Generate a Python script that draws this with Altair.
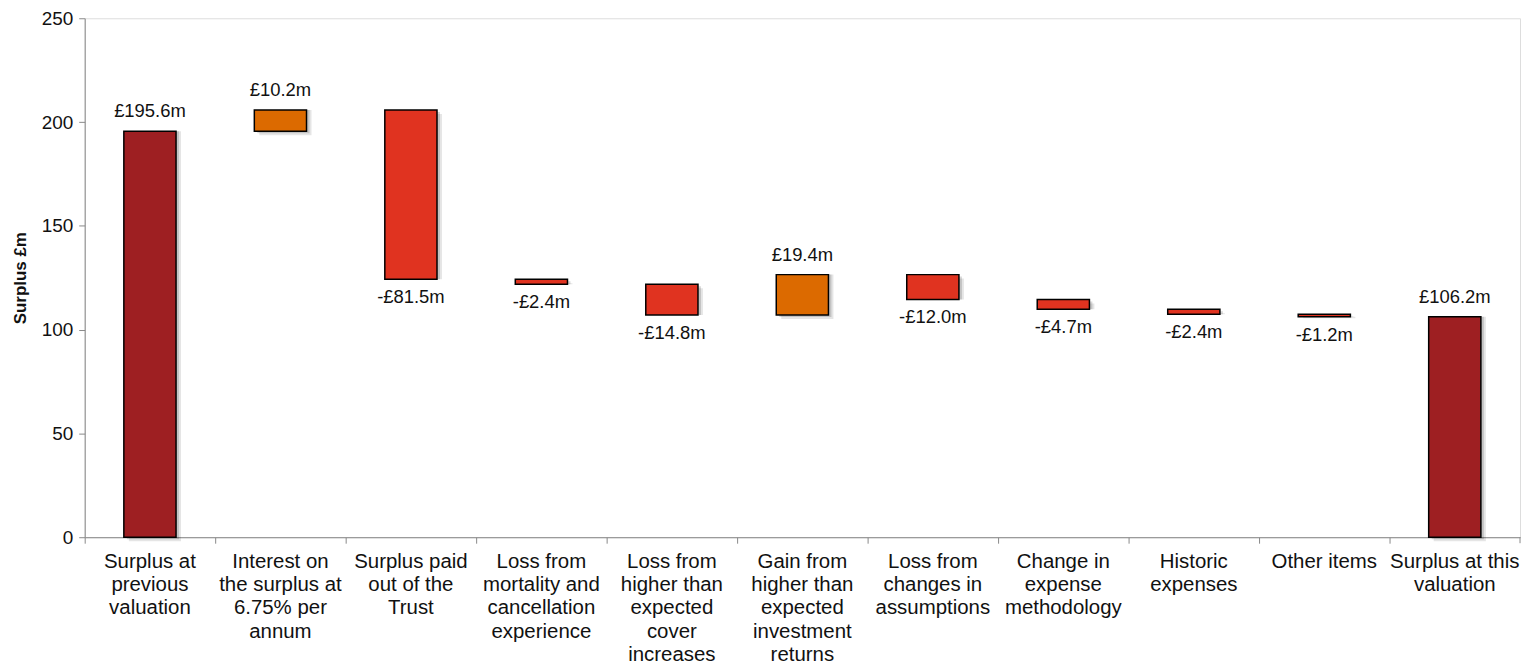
import altair as alt
import pandas as pd

categories = [
    "Surplus at|previous|valuation",
    "Interest on|the surplus at|6.75% per|annum",
    "Surplus paid|out of the|Trust",
    "Loss from|mortality and|cancellation|experience",
    "Loss from|higher than|expected|cover|increases",
    "Gain from|higher than|expected|investment|returns",
    "Loss from|changes in|assumptions",
    "Change in|expense|methodology",
    "Historic|expenses",
    "Other items",
    "Surplus at this|valuation",
]
changes = [195.6, 10.2, -81.5, -2.4, -14.8, 19.4, -12.0, -4.7, -2.4, -1.2, 106.2]
kinds = ["total", "gain", "loss", "loss", "loss", "gain", "loss", "loss", "loss", "loss", "total"]

rows = []
running = 0.0
for i, (c, v, k) in enumerate(zip(categories, changes, kinds)):
    if k == "total":
        start, end = 0.0, v
        running = v
        label = f"£{v:.1f}m"
    else:
        start, end = running, running + v
        running = end
        label = f"£{v:.1f}m" if v >= 0 else f"-£{abs(v):.1f}m"
    rows.append(dict(cat=c, order=i, start=start, end=end, kind=k, label=label,
                     top=max(start, end), bottom=min(start, end)))
df = pd.DataFrame(rows)

W, H = 1441, 521
x = alt.X("cat:N", sort=categories, title=None,
          scale=alt.Scale(paddingInner=0, paddingOuter=0),
          axis=alt.Axis(labelExpr="split(datum.label, '|')", labelAngle=0,
                        labelFontSize=20.5, labelLineHeight=23.5, labelColor="#111",
                        labelFont="Liberation Sans", labelPadding=8,
                        tickSize=6, tickColor="#888", domainColor="#888",
                        bandPosition=0, labelBaseline="top"))
y = alt.Y("start:Q", title="Surplus £m",
          scale=alt.Scale(domain=[0, 250], nice=False),
          axis=alt.Axis(values=[0, 50, 100, 150, 200, 250], grid=False,
                        labelFontSize=19, labelColor="#111", labelFont="Liberation Sans",
                        tickSize=6, tickColor="#888", domainColor="#888", labelPadding=6,
                        titleFont="Liberation Sans", titleFontSize=17, titleFontWeight="bold",
                        titleColor="#111", titlePadding=12))

color = alt.Color("kind:N", legend=None,
                  scale=alt.Scale(domain=["total", "gain", "loss"],
                                  range=["#9E1F22", "#DC6A00", "#E03320"]))

base = alt.Chart(df)
shadow1 = base.mark_bar(width={"band": 0.4}, color="#000", opacity=0.10, xOffset=5, yOffset=4).encode(
    x=x, y=y, y2="end:Q")
shadow2 = base.mark_bar(width={"band": 0.4}, color="#000", opacity=0.15, xOffset=3, yOffset=2).encode(
    x=x, y=y, y2="end:Q")
bars = base.mark_bar(width={"band": 0.4}, stroke="#000", strokeWidth=1.5).encode(
    x=x, y=y, y2="end:Q", color=color)

text_up = base.transform_filter("datum.kind != 'loss'").mark_text(
    baseline="middle", dy=-20, fontSize=18.5, font="Liberation Sans", color="#111").encode(
    x=alt.X("cat:N", sort=categories), y=alt.Y("top:Q"), text="label:N")
text_down = base.transform_filter("datum.kind == 'loss'").mark_text(
    baseline="middle", dy=18, fontSize=18.5, font="Liberation Sans", color="#111").encode(
    x=alt.X("cat:N", sort=categories), y=alt.Y("bottom:Q"), text="label:N")

end_tick = alt.Chart(pd.DataFrame({"a": [0]})).mark_rule(color="#888").encode(
    x=alt.value(W), y=alt.value(H), y2=alt.value(H + 6))

chart = alt.layer(shadow1, shadow2, bars, text_up, text_down, end_tick).properties(
    width=W, height=H,
    autosize=alt.AutoSizeParams(type="none"),
    padding={"left": 77, "top": 9, "right": 5, "bottom": 130},
).configure_view(stroke=None).configure(background="white")

chart.save("out.html", embed_options={"renderer": "svg", "actions": False})
